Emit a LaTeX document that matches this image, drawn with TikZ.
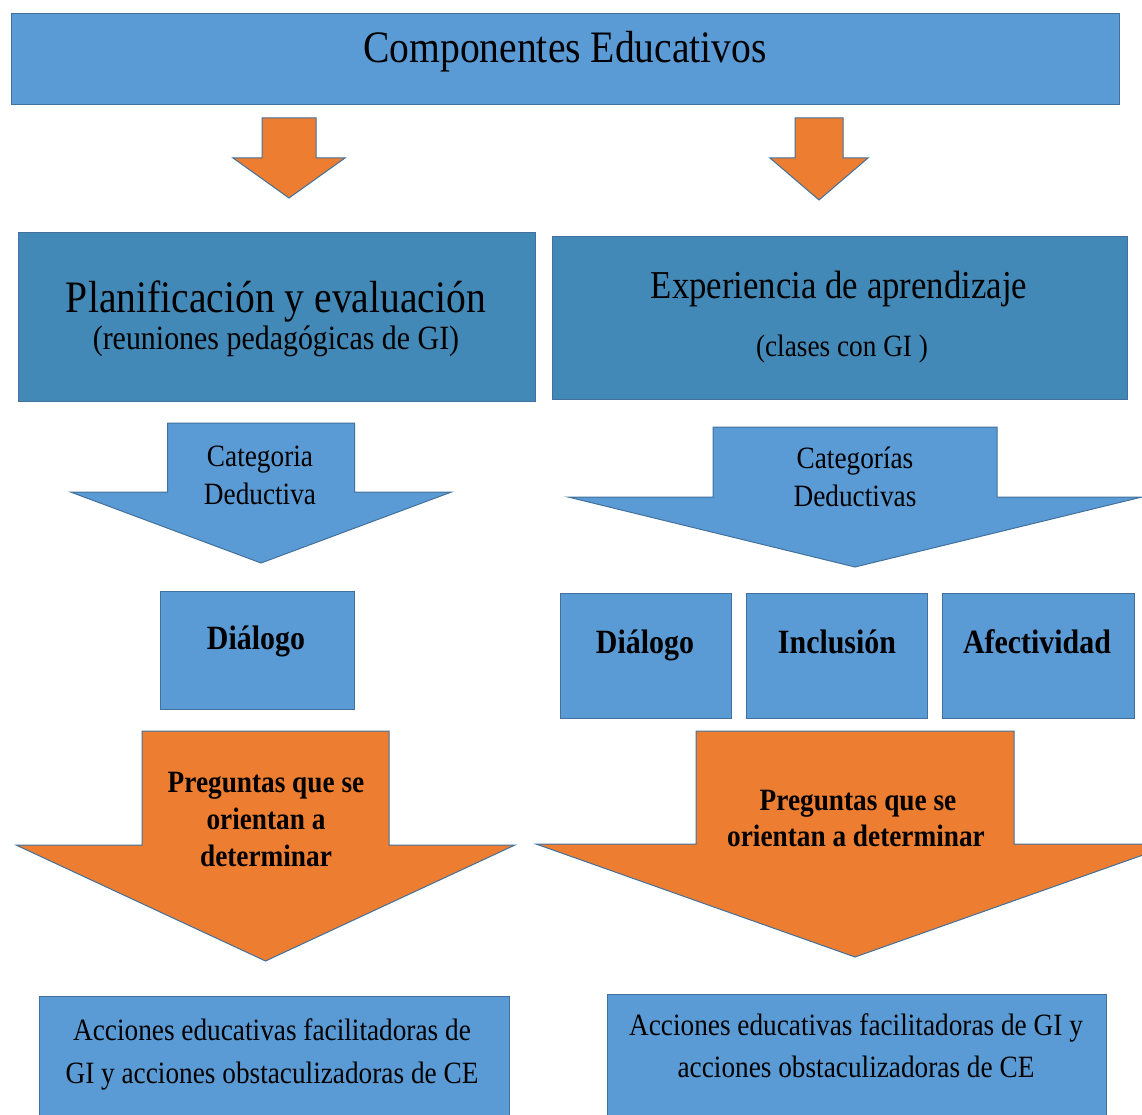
\documentclass[tikz,border=0pt]{standalone}
\usepackage{fontspec}
\setmainfont[FakeStretch=0.88]{Liberation Serif}
\definecolor{lightblue}{HTML}{5B9BD5}
\definecolor{darkblue}{HTML}{4389B8}
\definecolor{edgeblue}{HTML}{41719C}
\definecolor{orangefill}{HTML}{ED7D31}
% #1 fill, #2 centre x, #3 top, #4 shoulder, #5 tip, #6 shaft half-width, #7 head half-width
\newcommand\blockarrow[7]{%
  \draw[arrowline, fill=#1] ({#2-#6},#3) -- ({#2+#6},#3) -- ({#2+#6},#4) -- ({#2+#7},#4)
    -- (#2,#5) -- ({#2-#7},#4) -- ({#2-#6},#4) -- cycle;}
\begin{document}
\begin{tikzpicture}[x=1pt,y=-1pt,
  box/.style={draw=edgeblue, line width=1pt, inner sep=0pt, outer sep=0pt},
  lightbox/.style={box, fill=lightblue},
  darkbox/.style={box, fill=darkblue},
  arrowline/.style={draw=edgeblue, line width=1pt, line join=miter},
  txt/.style={inner sep=0pt, anchor=base, text=black},
  big/.style={txt, font=\fontsize{45}{54}\selectfont},
  sub/.style={txt, font=\fontsize{34}{40}\selectfont},
  cat/.style={txt, font=\fontsize{31}{38}\selectfont},
  bold/.style={txt, font=\fontsize{34}{40}\selectfont\bfseries},
  qbold/.style={txt, font=\fontsize{31}{37}\selectfont\bfseries},
  act/.style={txt, font=\fontsize{31}{43}\selectfont}]
\useasboundingbox (0,0) rectangle (1142,1115);
\clip (0,0) rectangle (1142,1115);

% heading
\node[lightbox, minimum width=1108pt, minimum height=91pt] (title) at (565,59.5) {};
\node[big] (titletext) at (title.center |- 0,63) {Componentes Educativos};

% arrows from the heading
\blockarrow{orangefill}{289}{118}{158}{198}{27}{56}
\blockarrow{orangefill}{819}{118}{158}{200}{24}{49}

% the two components
\node[darkbox, minimum width=517pt, minimum height=168pt] (plan) at (276.5,317) {};
\node[big] (plantext) at (276,312) {Planificación y evaluación};
\node[sub] (plansub) at (276,349) {(reuniones pedagógicas de GI)};

\node[darkbox, minimum width=575pt, minimum height=162pt] (exp) at (839.5,318) {};
\node[txt, font=\fontsize{39.5}{48}\selectfont] (exptext) at (839,298) {Experiencia de aprendizaje};
\node[txt, font=\fontsize{31}{38}\selectfont] (expsub) at (842,356) {(clases con GI )};

% deductive categories
\blockarrow{lightblue}{261}{423}{492}{563}{93.5}{190.5}
\node[cat] (catA1) at (260,466) {Categoria};
\node[cat] (catA2) at (260,504) {Deductiva};

\blockarrow{lightblue}{855}{427}{497}{567}{142}{287}
\node[cat] (catB1) at (855,468) {Categorías};
\node[cat] (catB2) at (855,506) {Deductivas};

% categories
\node[lightbox, minimum width=194pt, minimum height=118pt] (dialA) at (257,650) {};
\node[bold] (dialAtext) at (256,649) {Diálogo};

\node[lightbox, minimum width=171pt, minimum height=125pt] (dialB) at (645.5,655.5) {};
\node[bold] (dialBtext) at (645,653) {Diálogo};
\node[lightbox, minimum width=181pt, minimum height=125pt] (incl) at (836.5,655.5) {};
\node[bold] (incltext) at (837,653) {Inclusión};
\node[lightbox, minimum width=192pt, minimum height=125pt] (afec) at (1038,655.5) {};
\node[bold] (afectext) at (1037,653) {Afectividad};

% guiding questions
\blockarrow{orangefill}{265.5}{731}{845}{961}{123.5}{249.5}
\node[qbold] (qA1) at (266,792) {Preguntas que se};
\node[qbold] (qA2) at (266,829) {orientan a};
\node[qbold] (qA3) at (266,866) {determinar};

\blockarrow{orangefill}{855}{731}{844}{957}{159}{319}
\node[qbold] (qB1) at (858,810) {Preguntas que se};
\node[qbold] (qB2) at (856,846) {orientan a determinar};

% resulting actions
\node[lightbox, minimum width=470pt, minimum height=134pt] (actA) at (274,1063) {};
\node[act] (actA1) at (272,1040) {Acciones educativas facilitadoras de};
\node[act] (actA2) at (272,1083) {GI y acciones obstaculizadoras de CE};

\node[lightbox, minimum width=499pt, minimum height=136pt] (actB) at (856.5,1062) {};
\node[act] (actB1) at (856,1035) {Acciones educativas facilitadoras de GI y};
\node[act] (actB2) at (856,1077) {acciones obstaculizadoras de CE};
\end{tikzpicture}
\end{document}
